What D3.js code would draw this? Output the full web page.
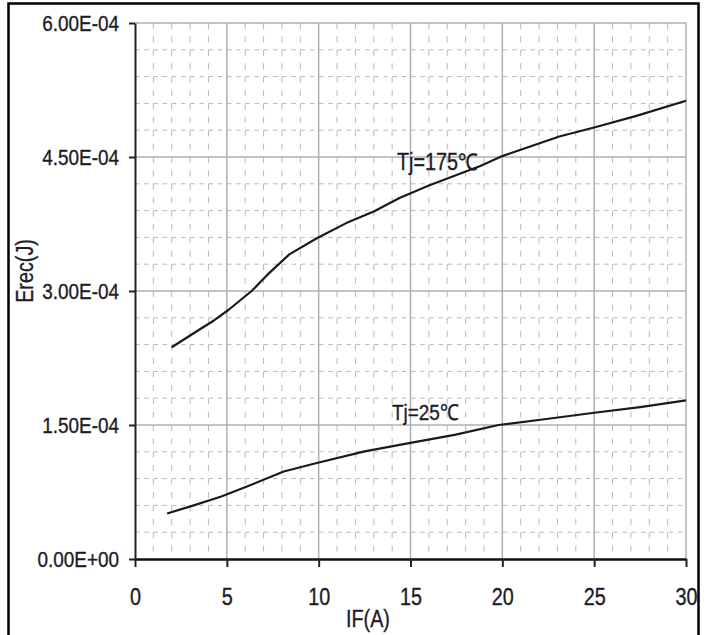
<!DOCTYPE html>
<html>
<head>
<meta charset="utf-8">
<script src="https://cdn.jsdelivr.net/npm/d3@7"></script>
<style>
  body { margin: 0; background: #fff; }
  text { font-family: "Liberation Sans", Arial, sans-serif; fill: #1c1c28; stroke: #1c1c28; stroke-width: 0.35px; }
</style>
</head>
<body>
<script>
// values
var ifHot = [2, 3.6, 4.3, 5.1, 6.35, 7.2, 8.4, 9.9, 11.5, 13, 14.4, 16, 18.8, 20, 23.1, 25, 27.3, 30];
var erecHot = [2.37e-4, 2.58e-4, 2.67e-4, 2.79e-4, 3.0e-4, 3.18e-4, 3.41e-4, 3.59e-4, 3.76e-4, 3.89e-4, 4.04e-4, 4.18e-4, 4.40e-4, 4.51e-4, 4.73e-4, 4.83e-4, 4.96e-4, 5.13e-4];
var ifCold = [1.75, 3.2, 4.7, 6.2, 8.1, 9.9, 12.5, 15, 17.4, 19.8, 22.4, 24.9, 27.5, 30];
var erecCold = [0.51e-4, 0.60e-4, 0.70e-4, 0.82e-4, 0.98e-4, 1.075e-4, 1.205e-4, 1.30e-4, 1.39e-4, 1.50e-4, 1.567e-4, 1.634e-4, 1.70e-4, 1.775e-4];
var seriesLabels = ["Tj=175\u2103", "Tj=25\u2103"];
var xTicks = [0, 5, 10, 15, 20, 25, 30];
var yTicks = [0, 1.5e-4, 3.0e-4, 4.5e-4, 6.0e-4];

var width = 709,
    height = 635;

var svg = d3.select("body")
    .append("svg")
    .attr("width", width)
    .attr("height", height);

var x = d3.scaleLinear().domain([0, 30]).range([135, 686]);
var y = d3.scaleLinear().domain([0, 6e-4]).range([559, 23]);

//outer frame
svg.append("rect")
    .attr("x", 8.5).attr("y", 3.5)
    .attr("width", 690).attr("height", 660)
    .attr("fill", "none")
    .attr("stroke", "#000")
    .attr("stroke-width", 2.5);

//minor grid: every 1 A and every 0.3E-04
var xMinor = d3.range(1, 30).filter(function(d){ return d % 5 != 0; });
var yMinor = d3.range(1, 20).filter(function(d){ return d % 5 != 0; }).map(function(d){ return d * 0.3e-4; });

svg.selectAll(".vminor")
    .data(xMinor)
    .enter()
    .append("line")
    .attr("class", "vminor")
    .attr("x1", function(d){ return x(d); })
    .attr("x2", function(d){ return x(d); })
    .attr("y1", y(6e-4)).attr("y2", y(0))
    .attr("stroke", "#b8b8b8")
    .attr("stroke-width", 1)
    .attr("stroke-dasharray", "6,7.4");

svg.selectAll(".hminor")
    .data(yMinor)
    .enter()
    .append("line")
    .attr("class", "hminor")
    .attr("x1", x(0)).attr("x2", x(30))
    .attr("y1", function(d){ return y(d); })
    .attr("y2", function(d){ return y(d); })
    .attr("stroke", "#b8b8b8")
    .attr("stroke-width", 1)
    .attr("stroke-dasharray", "4.5,4.7");

//major grid
svg.selectAll(".vmajor")
    .data(xTicks.slice(1))
    .enter()
    .append("line")
    .attr("class", "vmajor")
    .attr("x1", function(d){ return x(d); })
    .attr("x2", function(d){ return x(d); })
    .attr("y1", y(6e-4)).attr("y2", y(0))
    .attr("stroke", "#b0b0b0")
    .attr("stroke-width", 1.5);

svg.selectAll(".hmajor")
    .data(yTicks.slice(1))
    .enter()
    .append("line")
    .attr("class", "hmajor")
    .attr("x1", x(0)).attr("x2", x(30))
    .attr("y1", function(d){ return y(d); })
    .attr("y2", function(d){ return y(d); })
    .attr("stroke", "#b0b0b0")
    .attr("stroke-width", 1.5);

//axes
function sciFormat(v){
    return v.toExponential(2).toUpperCase().replace(/E([+-])(\d)$/, "E$10$2");
}

var yAxis = svg.append("g")
    .attr("transform", "translate(" + x(0) + ",0)")
    .call(d3.axisLeft(y).tickValues(yTicks).tickFormat(sciFormat).tickSize(6).tickSizeOuter(0).tickPadding(10));

var xAxis = svg.append("g")
    .attr("transform", "translate(0," + y(0) + ")")
    .call(d3.axisBottom(x).tickValues(xTicks).tickFormat(d3.format("d")).tickSize(8).tickSizeOuter(0).tickPadding(22));

yAxis.select(".domain").attr("stroke", "#222").attr("stroke-width", 2);
xAxis.select(".domain").attr("stroke", "#111").attr("stroke-width", 2.5);
svg.selectAll(".tick line").attr("stroke", "#222").attr("stroke-width", 2);
yAxis.selectAll("text").attr("font-size", 22).attr("font-family", null).attr("fill", null);
xAxis.selectAll("text").attr("font-size", 23).attr("font-family", null).attr("fill", null);

//curves
var line = d3.line()
    .x(function(d){ return x(d[0]); })
    .y(function(d){ return y(d[1]); });

svg.append("path")
    .datum(d3.zip(ifHot, erecHot))
    .attr("d", line)
    .attr("fill", "none")
    .attr("stroke", "#1a1a1a")
    .attr("stroke-width", 2.2)
    .attr("stroke-linejoin", "round");

svg.append("path")
    .datum(d3.zip(ifCold, erecCold))
    .attr("d", line)
    .attr("fill", "none")
    .attr("stroke", "#1a1a1a")
    .attr("stroke-width", 2.2)
    .attr("stroke-linejoin", "round");

//series labels
svg.append("text")
    .attr("x", 397).attr("y", 170)
    .attr("font-size", 23)
    .text(seriesLabels[0]);

svg.append("text")
    .attr("x", 392).attr("y", 420)
    .attr("font-size", 22)
    .text(seriesLabels[1]);

//axis titles
svg.append("text")
    .attr("transform", "translate(33,271) rotate(-90)")
    .attr("text-anchor", "middle")
    .attr("font-size", 23)
    .text("Erec(J)");

svg.append("text")
    .attr("x", 368).attr("y", 627)
    .attr("text-anchor", "middle")
    .attr("font-size", 23)
    .text("IF(A)");

//narrow the text like the original rendering
svg.selectAll("text").each(function(){
    var w = this.getComputedTextLength();
    d3.select(this)
        .attr("textLength", w * 0.86)
        .attr("lengthAdjust", "spacingAndGlyphs");
});
</script>
</body>
</html>
